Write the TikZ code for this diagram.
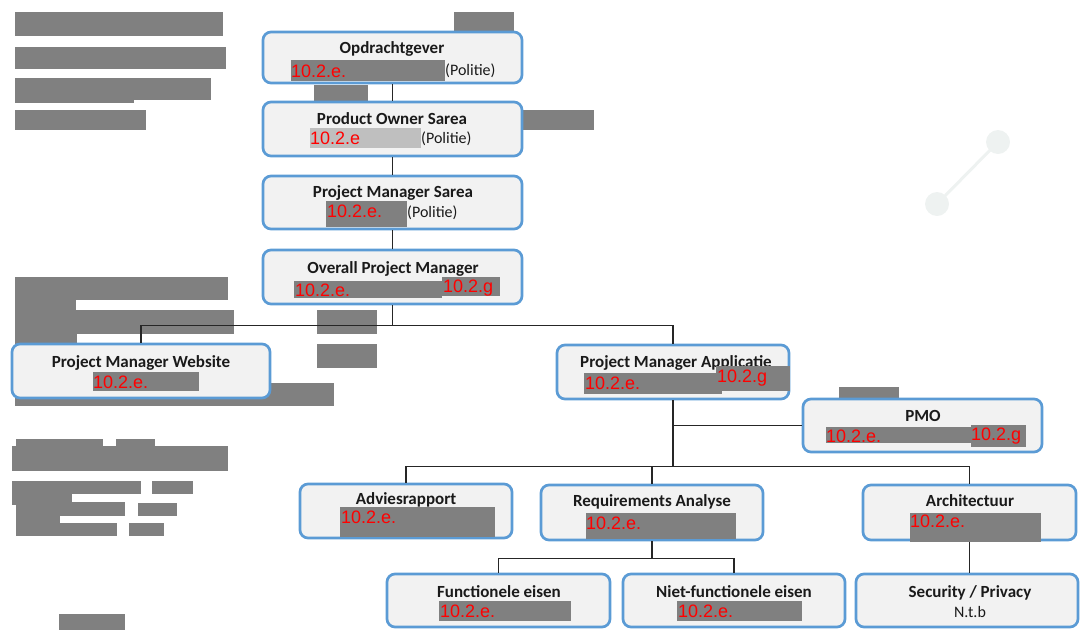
\documentclass[tikz,border=0pt]{standalone}
\usepackage{fontspec}
\setmainfont{Carlito}
\newfontfamily\arialf{Liberation Sans}
\definecolor{boxblue}{HTML}{5B9BD5}
\definecolor{boxfill}{HTML}{F2F2F2}
\definecolor{redact}{HTML}{808080}
\definecolor{redactl}{HTML}{BFBFBF}
\definecolor{deco}{HTML}{EEF2F1}
\definecolor{linec}{HTML}{262626}
\definecolor{ttlc}{HTML}{1A1A1A}
\tikzset{
  orgbox/.style={draw=boxblue, fill=boxfill, line width=2.7pt, rounded corners=8pt, inner sep=0pt},
  ttl/.style={font=\bfseries\fontsize{17}{19}\selectfont, text=ttlc, inner sep=0pt, anchor=base},
  subtxt/.style={font=\fontsize{16}{18}\selectfont, text=ttlc, inner sep=0pt, anchor=base west},
  redtxt/.style={font=\arialf\fontsize{18}{20}\selectfont, text=red, inner sep=0pt, anchor=base west},
  conn/.style={draw=linec, line width=1.6pt},
  bar/.style={fill=redact, draw=none},
  barl/.style={fill=redactl, draw=none}
}
\newcommand{\orgnode}[5]{\node[orgbox, minimum width=#4pt-#2pt, minimum height=#5pt-#3pt] (#1) at ({(#2+#4)/2},{(#3+#5)/2}) {};}
\begin{document}
\begin{tikzpicture}[x=1pt,y=-1pt]
\useasboundingbox (0,0) rectangle (1080,630);
% background redaction bars
\fill[bar] (15,12) rectangle (223,36);
\fill[bar] (15,47) rectangle (226,69);
\fill[bar] (15,78) rectangle (211,100);
\fill[bar] (15,100) rectangle (134,103);
\fill[bar] (15,110) rectangle (146,130);
\fill[bar] (454,12) rectangle (514,33);
\fill[bar] (314,85) rectangle (368,101);
\fill[bar] (520,110) rectangle (594,130);
\fill[bar] (15,277) rectangle (228,300);
\fill[bar] (15,300) rectangle (76,310);
\fill[bar] (15,310) rectangle (234,334);
\fill[bar] (15,334) rectangle (77,346);
\fill[bar] (317,310) rectangle (377,334);
\fill[bar] (317,344) rectangle (377,368);
\fill[bar] (15,383) rectangle (334,406);
\fill[bar] (839,387) rectangle (899,401);
% lower left
\fill[bar] (16,439) rectangle (103,447);
\fill[bar] (116,439) rectangle (155,447);
\fill[bar] (12,446) rectangle (228,471);
\fill[bar] (12,481) rectangle (141,494);
\fill[bar] (12,494) rectangle (72,505);
\fill[bar] (152,481) rectangle (193,494);
\fill[bar] (16,502) rectangle (125,516);
\fill[bar] (138,503) rectangle (177,516);
\fill[bar] (16,516) rectangle (60,523);
\fill[bar] (16,523) rectangle (117,536);
\fill[bar] (129,523) rectangle (164,536);
\fill[bar] (59,614) rectangle (125,630);
% decoration
\draw[deco, line width=3pt] (998,142) -- (937,204);
\fill[deco] (998,142) circle (12);
\fill[deco] (937,204) circle (12);
% boxes
\orgnode{b1}{263}{32}{522}{83}
\orgnode{b2}{263}{102}{522}{156}
\orgnode{b3}{263}{176}{522}{229}
\orgnode{b4}{263}{250}{522}{304}
\orgnode{b5}{12}{344}{270}{398}
\orgnode{b6}{557}{345}{789}{399}
\orgnode{pmo}{803}{399}{1042}{452}
\orgnode{b8}{300}{484}{512}{538}
\orgnode{b9}{541}{485}{763}{540}
\orgnode{b10}{863}{485}{1076}{540}
\orgnode{b11}{387}{574}{610}{627}
\orgnode{b12}{623}{574}{845}{627}
\orgnode{b13}{856}{574}{1078}{627}
% connectors
\draw[conn] (b1) -- (b2);
\draw[conn] (b2) -- (b3);
\draw[conn] (b3) -- (b4);
\draw[conn] (b4.south) -- ++(0,20) -| (b5.north);
\draw[conn] (b4.south) -- ++(0,20) -| (b6.north);
\draw[conn] (b6.south) |- (pmo.west);
\draw[conn] (b6.south) -- ++(0,66) -| (b8.north);
\draw[conn] (b6.south) -- ++(0,66) -| (b9.north);
\draw[conn] (b6.south) -- ++(0,66) -| (b10.north);
\draw[conn] (b9.south) -- ++(0,17) -| (b11.north);
\draw[conn] (b9.south) -- ++(0,17) -| (b12.north);
\draw[conn] (b10.south) -- (b10.south |- b13.north);
% titles
\node[ttl] (t1) at (392,53) {Opdrachtgever};
\node[ttl] (t2) at (392,124) {Product Owner Sarea};
\node[ttl] (t3) at (393,197) {Project Manager Sarea};
\node[ttl] (t4) at (393,273) {Overall Project Manager};
\node[ttl] (t5) at (141,367) {Project Manager Website};
\node[ttl] (t6) at (676,367) {Project Manager Applicatie};
\node[ttl] (t7) at (923,421) {PMO};
\node[ttl] (t8) at (406,504) {Adviesrapport};
\node[ttl] (t9) at (652,506) {Requirements Analyse};
\node[ttl] (t10) at (970,506) {Architectuur};
\node[ttl] (t11) at (499,597) {Functionele eisen};
\node[ttl] (t12) at (734,597) {Niet-functionele eisen};
\node[ttl] (t13) at (970,597) {Security / Privacy};
% inner redactions
\fill[bar] (291,60) rectangle (445,81);
\fill[barl] (310,128) rectangle (421,148);
\fill[bar] (326,201) rectangle (407,227);
\fill[bar] (294,281) rectangle (442,298);
\fill[bar] (442,277) rectangle (500,296);
\fill[bar] (93,372) rectangle (199,391);
\fill[bar] (584,373) rectangle (722,394);
\fill[bar] (716,366) rectangle (790,391);
\fill[bar] (826,427) rectangle (971,443);
\fill[bar] (971,425) rectangle (1026,447);
\fill[bar] (340,507) rectangle (495,537);
\fill[bar] (586,513) rectangle (736,539);
\fill[bar] (910,513) rectangle (1041,542);
\fill[bar] (439,601) rectangle (571,621);
\fill[bar] (677,601) rectangle (802,621);
% second lines
\node[redtxt] (r1) at (291,77) {10.2.e.};
\node[subtxt] (p1) at (445,75) {(Politie)};
\node[redtxt] (r2) at (310,144) {10.2.e};
\node[subtxt] (p2) at (421,143) {(Politie)};
\node[redtxt] (r3) at (327,217) {10.2.e.};
\node[subtxt] (p3) at (407,217) {(Politie)};
\node[redtxt] (r4) at (295,296) {10.2.e.};
\node[redtxt] (g4) at (443,292) {10.2.g};
\node[redtxt] (r5) at (93,388) {10.2.e.};
\node[redtxt] (r6) at (585,389) {10.2.e.};
\node[redtxt] (g6) at (717,382) {10.2.g};
\node[redtxt] (r7) at (826,442) {10.2.e.};
\node[redtxt] (g7) at (971,440) {10.2.g};
\node[redtxt] (r8) at (341,523) {10.2.e.};
\node[redtxt] (r9) at (586,529) {10.2.e.};
\node[redtxt] (r10) at (910,527) {10.2.e.};
\node[redtxt] (r11) at (440,617) {10.2.e.};
\node[redtxt] (r12) at (678,617) {10.2.e.};
\node[subtxt, anchor=base] (n13) at (970,617) {N.t.b};
\end{tikzpicture}
\end{document}
